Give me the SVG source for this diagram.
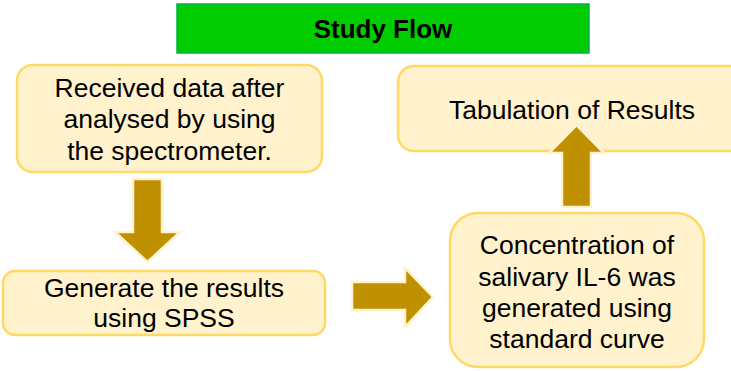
<svg xmlns="http://www.w3.org/2000/svg" width="731" height="371" viewBox="0 0 731 371">
  <style>
    .box { fill: #fff2cc; stroke: #ffd966; stroke-width: 2.5; }
    .txt { font-family: "Liberation Sans", Arial, sans-serif; font-size: 26.5px; fill: #000; text-anchor: middle; }
    .title { font-weight: bold; font-size: 26px; }
    .arrow { fill: #bf9000; stroke: #fff2cc; stroke-width: 2.5; stroke-linejoin: miter; }
  </style>
  <rect width="731" height="371" fill="#ffffff"/>

  <g id="title">
    <rect x="177" y="4" width="412" height="49" fill="#00cc00" stroke="#00b050" stroke-width="1.5"/>
    <text class="txt title" x="383" y="38">Study Flow</text>
  </g>

  <g id="received">
    <rect class="box" x="17" y="65" width="305" height="107" rx="16"/>
    <text class="txt" x="169.5" y="97">Received data after</text>
    <text class="txt" x="169.5" y="128">analysed by using</text>
    <text class="txt" x="169.5" y="160">the spectrometer.</text>
  </g>

  <g id="generate">
    <rect class="box" x="3" y="271" width="322" height="64" rx="12"/>
    <text class="txt" x="164" y="297">Generate the results</text>
    <text class="txt" x="164" y="327">using SPSS</text>
  </g>

  <g id="tabulation">
    <rect class="box" x="398" y="66" width="350" height="85" rx="16"/>
    <text class="txt" x="572" y="119">Tabulation of Results</text>
  </g>

  <g id="concentration">
    <rect class="box" x="450" y="213" width="254" height="154" rx="28"/>
    <text class="txt" x="577" y="254">Concentration of</text>
    <text class="txt" x="577" y="286">salivary IL-6 was</text>
    <text class="txt" x="577" y="317">generated using</text>
    <text class="txt" x="577" y="348">standard curve</text>
  </g>

  <g id="connectors">
    <!-- down: received -> generate -->
    <polygon class="arrow" points="133,179 162,179 162,232 180,232 147.5,262 115,232 133,232"/>
    <!-- right: generate -> concentration -->
    <polygon class="arrow" points="352,282 405,282 405,268 433,297 405,327 405,310 352,310"/>
    <!-- up: concentration -> tabulation -->
    <polygon class="arrow" points="562,207 562,153 549,153 576.5,125 604,153 591,153 591,207"/>
  </g>
</svg>
